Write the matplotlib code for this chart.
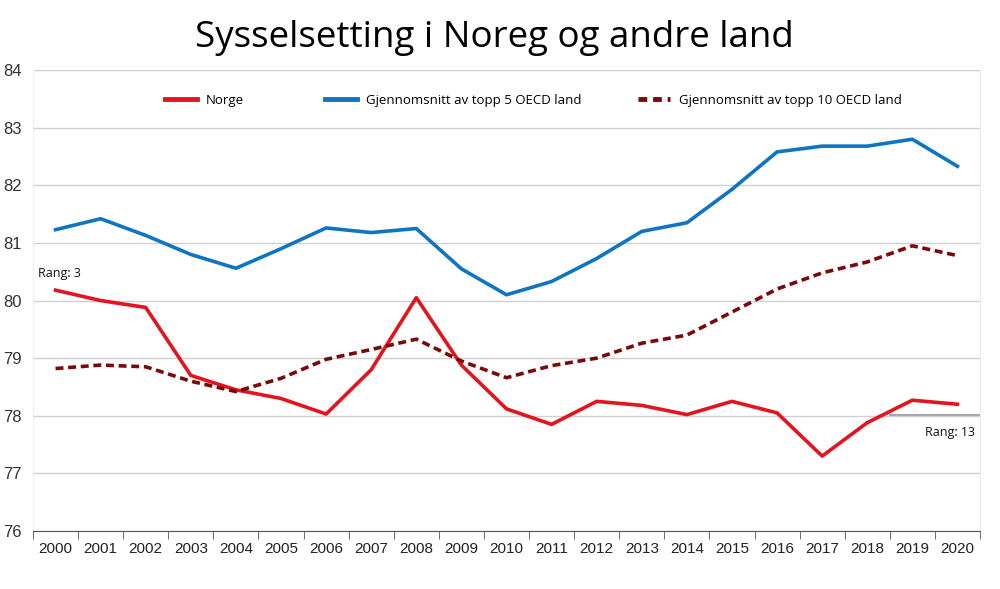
import matplotlib
matplotlib.use("Agg")
import matplotlib.pyplot as plt
from matplotlib.lines import Line2D
import numpy as np

years = [str(y) for y in range(2000, 2021)]
norge = [80.18, 80.0, 79.88, 78.7, 78.45, 78.3, 78.03, 78.8, 80.05, 78.88, 78.12,
         77.85, 78.25, 78.18, 78.02, 78.25, 78.05, 77.3, 77.88, 78.27, 78.2]
topp5 = [81.23, 81.42, 81.13, 80.8, 80.56, 80.9, 81.26, 81.18, 81.25, 80.55, 80.1,
         80.33, 80.73, 81.2, 81.35, 81.93, 82.58, 82.68, 82.68, 82.8, 82.33]
topp10 = [78.82, 78.88, 78.85, 78.6, 78.42, 78.65, 78.98, 79.15, 79.33, 78.95, 78.66,
          78.87, 79.0, 79.26, 79.4, 79.8, 80.2, 80.48, 80.67, 80.95, 80.78]
yticks = [76, 77, 78, 79, 80, 81, 82, 83, 84]
labels = ["Norge", "Gjennomsnitt av topp 5 OECD land", "Gjennomsnitt av topp 10 OECD land"]

red, blue, dred = "#e3141f", "#0f75c0", "#7a0a0a"
dash = (0, (2.2, 1.3))

fig = plt.figure(figsize=(10, 5.89), dpi=100)
ax = fig.add_axes([0.033, 0.0985, 0.947, 0.7825])
x = np.arange(len(years))

ax.plot(x, norge, color=red, lw=2.6)
ax.plot(x, topp5, color=blue, lw=2.6)
ax.plot(x, topp10, color=dred, lw=2.6, ls=dash)

ax.set_xlim(-0.5, len(years) - 0.5)
ax.set_ylim(76, 84)
ax.set_yticks(yticks)
ax.yaxis.grid(True, color="#d0d0d0", lw=1)
ax.set_axisbelow(True)
ax.tick_params(axis="y", length=0, pad=8, labelsize=12, colors="#333333")
ax.set_xticks(x)
ax.set_xticklabels(years)
ax.tick_params(axis="x", length=0, pad=8, labelsize=11, colors="#222222")
ax.set_xticks(np.arange(-0.5, len(years)), minor=True)
ax.tick_params(axis="x", which="minor", length=6, color="#555555")
for lab in ax.get_xticklabels() + ax.get_yticklabels():
    lab.set_family("Liberation Sans")
ax.spines["top"].set_visible(False)
ax.spines["left"].set_color("#eeeeee")
ax.spines["right"].set_color("#eeeeee")
ax.spines["bottom"].set_color("#555555")

ax.plot([18.5, 20.5], [78.01, 78.01], color="#999999", lw=1.2)
ax.text(-0.4, 80.4, "Rang: 3", fontsize=9, family="Open Sans", color="#111111")
ax.text(20.4, 77.65, "Rang: 13", fontsize=9, family="Open Sans", color="#111111", ha="right")

handles = [Line2D([], [], color=red, lw=3.5),
           Line2D([], [], color=blue, lw=3.5),
           Line2D([], [], color=dred, lw=3.5, ls=(0, (1.8, 1.2)))]
lefts = [0.165, 0.325, 0.638]
for h, l, lx in zip(handles, labels, lefts):
    lg = fig.legend([h], [l], loc="center left", bbox_to_anchor=(lx, 0.830),
                    frameon=False, prop={"family": "Open Sans", "size": 9.5},
                    handlelength=2.4, handletextpad=0.7, borderpad=0, borderaxespad=0)

fig.text(0.494, 0.935, "Sysselsetting i Noreg og andre land", ha="center", va="center",
         fontsize=26.5, family="Open Sans")

fig.savefig("out.png", dpi=100)
